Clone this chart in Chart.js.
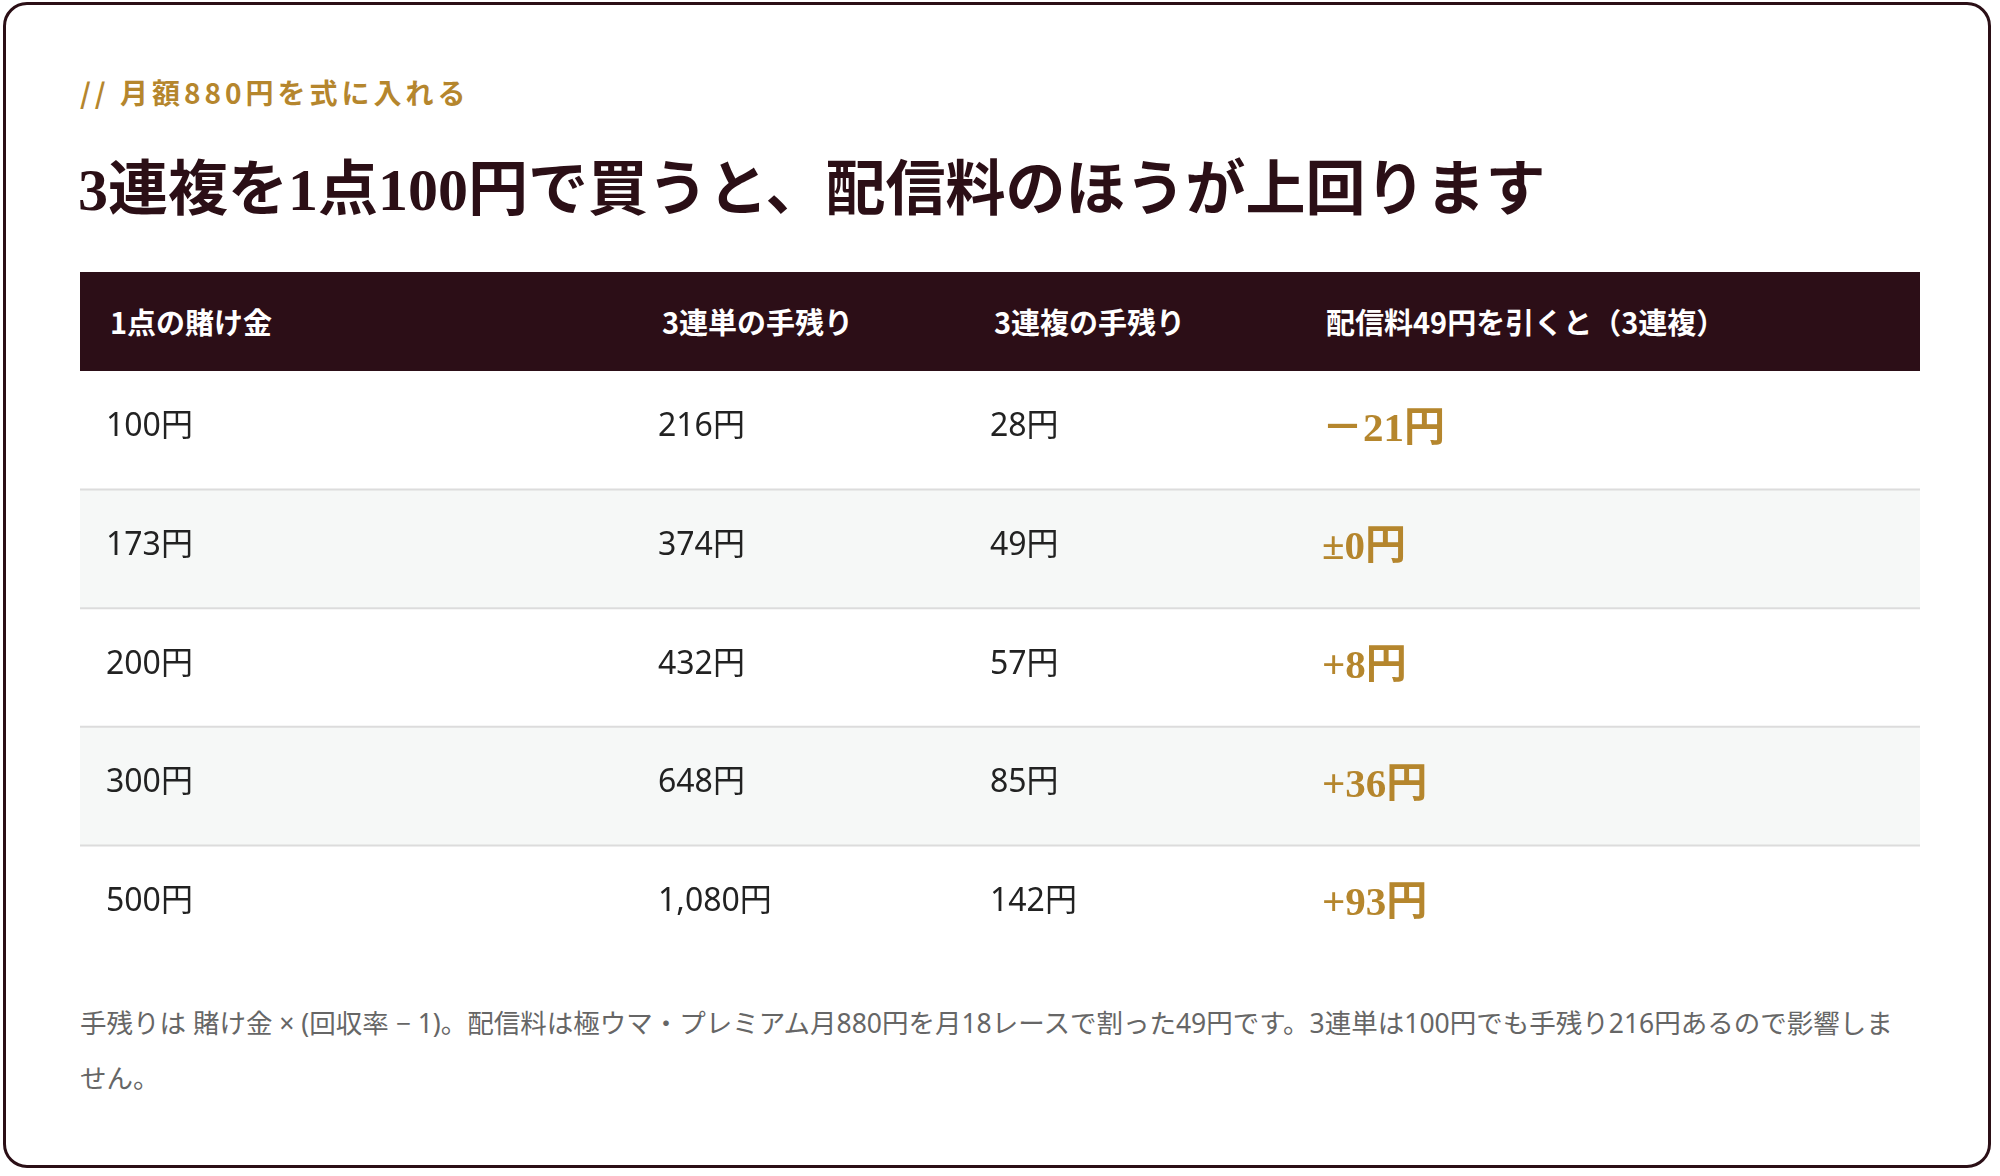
<!DOCTYPE html>
<html><head><meta charset="utf-8">
<script src="https://cdn.jsdelivr.net/npm/chart.js@4"></script>
<style>
html,body{margin:0;padding:0;background:#fff;width:2000px;height:1176px;overflow:hidden;font-family:"Noto Sans","Noto Sans CJK JP",sans-serif;}
.card{position:absolute;left:3px;top:2px;width:1988px;height:1166px;border:3px solid #2b0f16;border-radius:24px;box-sizing:border-box;}
.sub{position:absolute;left:80px;top:72px;font-size:28px;font-weight:700;color:#b5862d;letter-spacing:4px;font-family:"Noto Sans CJK JP",sans-serif;}
.title{position:absolute;left:78px;top:140px;font-size:60px;color:#2b0f16;font-family:"Liberation Serif","Noto Sans CJK JP",serif;font-weight:700;letter-spacing:0px;}
.head{position:absolute;left:80px;top:272px;width:1840px;height:99px;background:#2c0e17;color:#fff;font-weight:700;font-size:29px;font-family:"Noto Sans CJK JP",sans-serif;}
.head span{position:absolute;top:28px;}
#wrap{position:absolute;left:80px;top:371px;width:1840px;height:593px;}
.note{position:absolute;left:80px;top:996px;width:1820px;font-size:26.5px;line-height:55px;color:#666;}
</style></head><body>
<div class="card"></div>
<div class="sub">// 月額880円を式に入れる</div>
<div class="title">3連複を1点100円で買うと、配信料のほうが上回ります</div>
<div class="head" id="head"></div>
<div id="wrap"><canvas id="c"></canvas></div>
<div class="note">手残りは 賭け金 × (回収率 − 1)。配信料は極ウマ・プレミアム月880円を月18レースで割った49円です。3連単は100円でも手残り216円あるので影響しません。</div>
<script>
const headers = ["1点の賭け金","3連単の手残り","3連複の手残り","配信料49円を引くと（3連複）"];
const stakes = ["100円","173円","200円","300円","500円"];
const sanrentan = ["216円","374円","432円","648円","1,080円"];
const sanrenpuku = ["28円","49円","57円","85円","142円"];
const afterFee = ["－21円","±0円","+8円","+36円","+93円"];
const colX = [26, 578, 910, 1242];
const head = document.getElementById('head');
headers.forEach((h,i)=>{const s=document.createElement('span');s.textContent=h;s.style.left=(colX[i]+4)+'px';head.appendChild(s);});
const rowBg = stakes.map((_,i)=> i%2===1 ? '#f6f8f7' : '#ffffff');
const textPlugin = {
  id:'cells',
  afterDatasetsDraw(chart){
    const {ctx, scales:{y}} = chart;
    ctx.save();
    ctx.strokeStyle='#dcdcdc'; ctx.lineWidth=2;
    for(let i=0;i<stakes.length-1;i++){
      const b=(y.getPixelForValue(i)+y.getPixelForValue(i+1))/2;
      ctx.beginPath();ctx.moveTo(0,b);ctx.lineTo(chart.width,b);ctx.stroke();
    }
    ctx.textBaseline='middle';
    stakes.forEach((s,i)=>{
      const py=y.getPixelForValue(i);
      ctx.fillStyle='#222'; ctx.font='32px "Noto Sans","Noto Sans CJK JP",sans-serif';
      ctx.fillText(s,colX[0],py-3);
      ctx.fillText(sanrentan[i],colX[1],py-3);
      ctx.fillText(sanrenpuku[i],colX[2],py-3);
      ctx.fillStyle='#b5862d'; ctx.font='bold 41px "Liberation Serif","Noto Sans CJK JP",serif';
      ctx.fillText(afterFee[i],colX[3],py);
    });
    ctx.restore();
  }
};
new Chart(document.getElementById('c'),{
  type:'bar',
  data:{labels:stakes,datasets:[{data:stakes.map(()=>[0,1]),backgroundColor:rowBg,barPercentage:1,categoryPercentage:1,borderWidth:0}]},
  options:{indexAxis:'y',responsive:true,maintainAspectRatio:false,animation:false,devicePixelRatio:1,
    layout:{padding:0},
    plugins:{legend:{display:false},tooltip:{enabled:false}},
    scales:{x:{type:'linear',min:0,max:1,display:false},y:{display:false,offset:true}}},
  plugins:[textPlugin]
});
</script>
</body></html>
